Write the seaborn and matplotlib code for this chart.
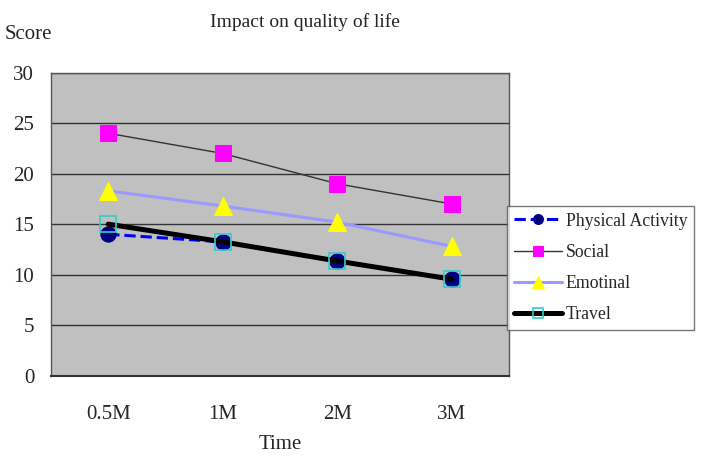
import numpy as np
import pandas as pd
import matplotlib.pyplot as plt
import seaborn as sns

sns.set_style("white")
plt.rcParams['font.family'] = ['Liberation Serif', 'DejaVu Serif']

# data
times = ["0.5M", "1M", "2M", "3M"]
physical = [14.0, 13.25, 11.35, 9.55]
social = [24.0, 22.0, 19.0, 17.0]
emotinal = [18.3, 16.8, 15.2, 12.8]
travel = [15.0, 13.25, 11.35, 9.55]

xpos = np.arange(len(times))

fig = plt.figure(figsize=(7.02, 4.57), dpi=100)
ax = fig.add_axes([0.0726, 0.178, 0.6524, 0.663])
ax.set_facecolor("#C0C0C0")

sns.lineplot(x=xpos, y=physical, ax=ax, color="#0000FF", linestyle="--", linewidth=2.2,
             marker="o", markersize=11, markerfacecolor="#000080", markeredgecolor="#000080",
             label="Physical Activity", zorder=3)
sns.lineplot(x=xpos, y=social, ax=ax, color="#333333", linewidth=1.0,
             marker="s", markersize=12, markerfacecolor="#FF00FF", markeredgecolor="#FF00FF",
             label="Social", zorder=3)
sns.lineplot(x=xpos, y=emotinal, ax=ax, color="#9999FF", linewidth=2.2,
             marker="^", markersize=13, markerfacecolor="#FFFF00", markeredgecolor="#FFFF00",
             label="Emotinal", zorder=3)
sns.lineplot(x=xpos, y=travel, ax=ax, color="black", linewidth=3.6,
             marker="s", markersize=11, markerfacecolor="none", markeredgecolor="#33CCCC",
             markeredgewidth=1.2, label="Travel", zorder=4)

ax.set_xlim(-0.5, 3.5)
ax.set_ylim(0, 30)
ax.set_yticks(range(0, 31, 5))
ax.set_xticks(xpos)
ax.set_xticklabels(times)
ax.set_xticks([0.5, 1.5, 2.5], minor=True)
ax.tick_params(axis="x", which="major", length=0, pad=21, labelsize=15)
ax.tick_params(axis="x", which="minor", length=5, direction="in", color="#333333")
ax.tick_params(axis="y", length=0, pad=12, labelsize=15)
ax.grid(axis="y", color="#333333", linewidth=1.0)
ax.set_axisbelow(True)
for s in ax.spines.values():
    s.set_color("#555555")
    s.set_linewidth(1.0)
ax.spines["bottom"].set_color("#333333")
ax.spines["bottom"].set_linewidth(1.5)

ax.set_xlabel("Time", fontsize=15, labelpad=8)
ax.set_ylabel("")
fig.text(0.435, 0.972, "Impact on quality of life", ha="center", va="top", fontsize=14)
fig.text(0.007, 0.925, "Score", ha="left", va="center", fontsize=15)

leg = ax.legend(loc="lower left", bbox_to_anchor=(0.722, 0.277), bbox_transform=fig.transFigure,
                fontsize=12.8, frameon=True, fancybox=False, handlelength=2.7, markerscale=0.65,
                handletextpad=0.2, borderpad=0.4, labelspacing=0.8, borderaxespad=0)
leg.get_frame().set_edgecolor("#555555")
leg.get_frame().set_linewidth(1.0)

plt.savefig("out.png", dpi=100)
